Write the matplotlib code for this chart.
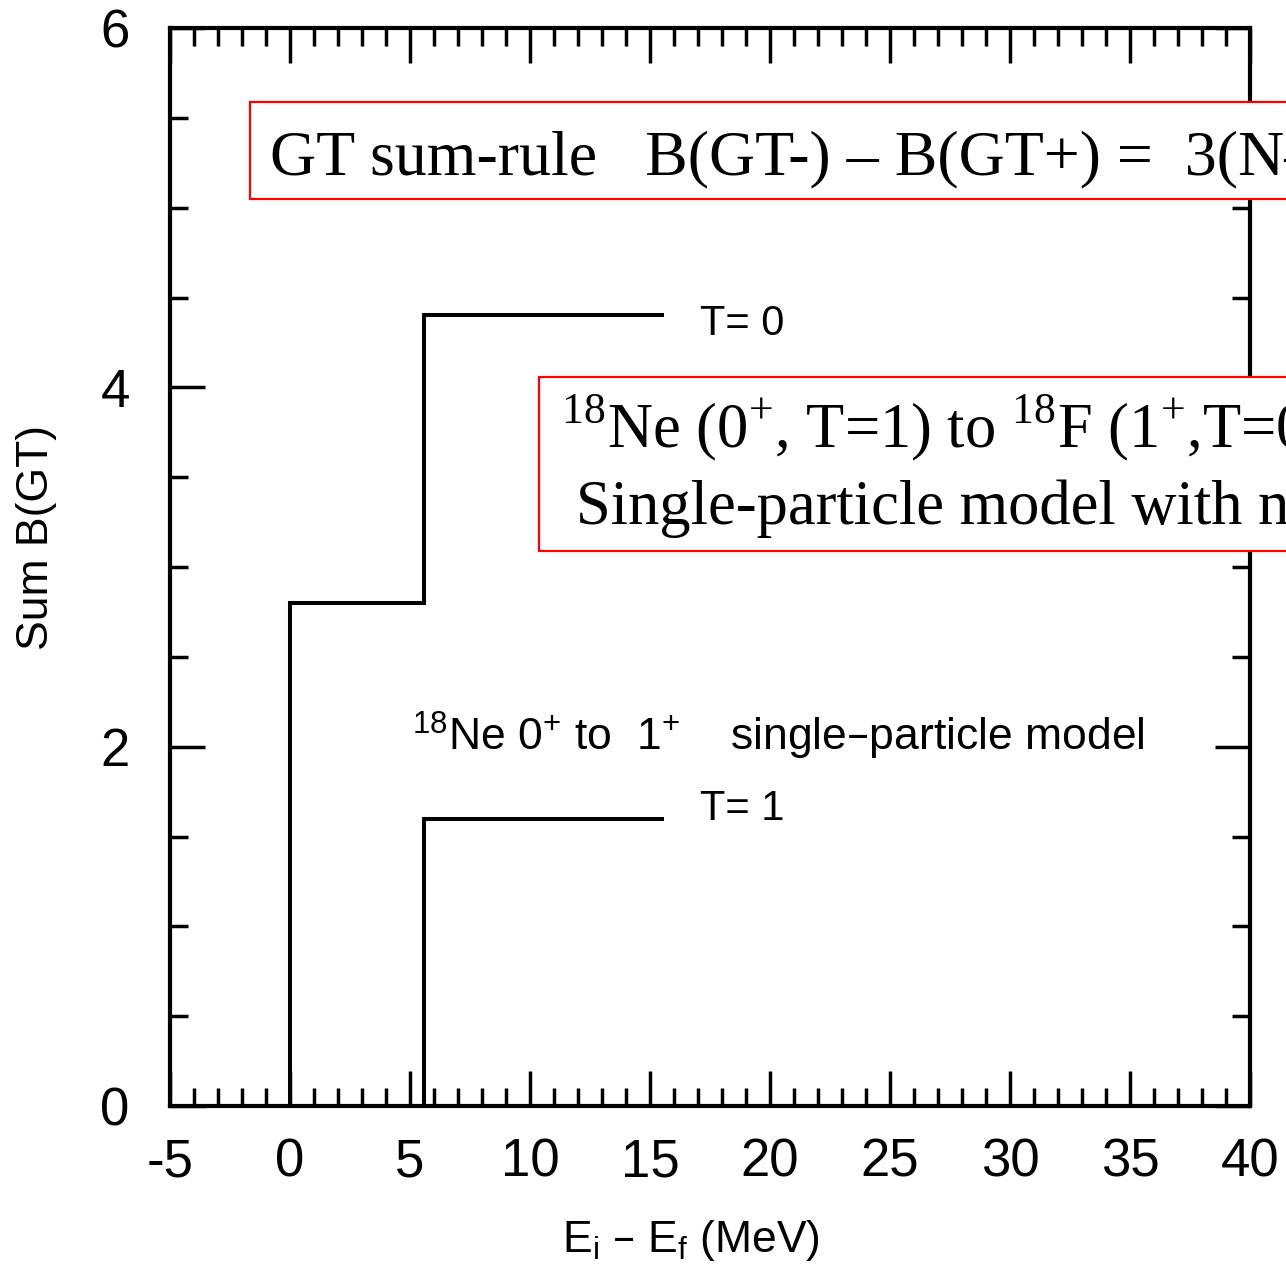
import numpy as np
import matplotlib.pyplot as plt
from matplotlib.patches import Rectangle
from matplotlib.ticker import MultipleLocator

plt.rcParams["axes.unicode_minus"] = False

# data
t0_energies = [0.0, 5.6]      # MeV, where the running sum jumps
t0_sums = [2.8, 4.4]          # running Sum B(GT) after each jump
t1_energies = [5.6]
t1_sums = [1.6]
x_end = 15.5

x_ticks = [-5, 0, 5, 10, 15, 20, 25, 30, 35, 40]
y_ticks = [0, 2, 4, 6]


def step_xy(energies, sums, end):
    xs = np.repeat(energies, 2)
    ys = np.concatenate([[0.0], np.repeat(sums, 2)[:-1]])
    return np.append(xs, end), np.append(ys, sums[-1])


W, H = 1286, 1266
fig = plt.figure(figsize=(W / 100, H / 100), dpi=100)
ax = fig.add_axes([170 / W, 1 - 1106 / H, (1250 - 170) / W, (1106 - 28) / H])

sans = "Liberation Sans"
serif = "Liberation Serif"

x0, y0 = step_xy(t0_energies, t0_sums, x_end)
x1, y1 = step_xy(t1_energies, t1_sums, x_end)
ax.plot(x0, y0, color="black", lw=2.9, solid_joinstyle="miter")
ax.plot(x1, y1, color="black", lw=2.9, solid_joinstyle="miter")

ax.set_xlim(-5, 40)
ax.set_ylim(0, 6)
ax.set_xticks(x_ticks)
ax.set_yticks(y_ticks)
ax.xaxis.set_minor_locator(MultipleLocator(1))
ax.yaxis.set_minor_locator(MultipleLocator(0.5))
for s in ax.spines.values():
    s.set_linewidth(3)
ax.tick_params(which="both", direction="in", top=True, right=True, width=2.5)
ax.tick_params(which="major", length=25)
ax.tick_params(which="minor", length=13)
ax.tick_params(axis="x", pad=23, labelsize=38)
ax.tick_params(axis="y", pad=29, labelsize=38)
for lab in ax.get_xticklabels() + ax.get_yticklabels():
    lab.set_fontfamily(sans)

# labels
fig.text(37 / W, 1 - 537 / H, "Sum B(GT)", rotation=90, ha="center", va="center",
         fontsize=32, fontfamily=sans)
fig.text(691 / W, 1 - 1252 / H, r"E$_\mathregular{i}$ – E$_\mathregular{f}$ (MeV)",
         ha="center", va="baseline", fontsize=32, fontfamily=sans)

# annotations inside the axes
ax.text(17.1, 4.29, "T= 0", fontsize=30, fontfamily=sans, va="baseline")
ax.text(17.1, 1.59, "T= 1", fontsize=30, fontfamily=sans, va="baseline")
ax.text(5.08, 1.98,
        r"$^\mathregular{18}$Ne 0$^\mathregular{+}$ to  1$^\mathregular{+}$    single–particle model",
        fontsize=32, fontfamily=sans, va="baseline")

# red boxes running off the right edge
fig.add_artist(Rectangle((250 / W, 1 - 199 / H), 1200 / W, 97 / H, transform=fig.transFigure,
                         facecolor="white", edgecolor="red", lw=1.6, zorder=2))
fig.text(270 / W, 1 - 174 / H, "GT sum-rule   B(GT-) – B(GT+) =  3(N–Z)",
         fontsize=46, fontfamily=serif, va="baseline", zorder=3)

fig.add_artist(Rectangle((539 / W, 1 - 551 / H), 1000 / W, 174 / H, transform=fig.transFigure,
                         facecolor="white", edgecolor="red", lw=1.6, zorder=2))
fig.text(561 / W, 1 - 447 / H,
         r"$^\mathregular{18}$Ne (0$^\mathregular{+}$, T=1) to $^\mathregular{18}$F (1$^\mathregular{+}$,T=0)",
         fontsize=45, fontfamily=serif, va="baseline", zorder=3)
fig.text(576 / W, 1 - 524 / H, "Single-particle model with no interaction",
         fontsize=45, fontfamily=serif, va="baseline", zorder=3)

fig.savefig("out.png", dpi=100)
